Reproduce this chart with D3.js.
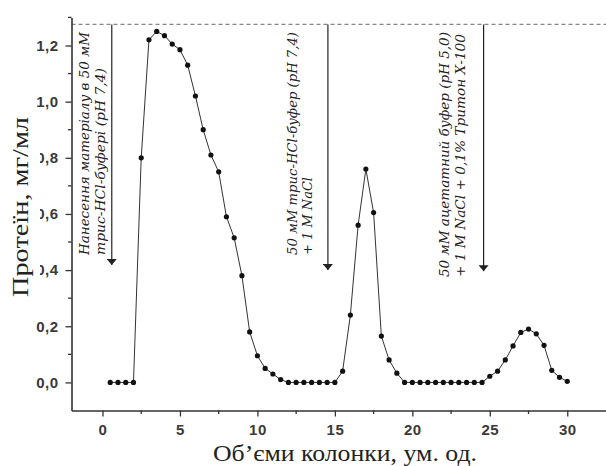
<!DOCTYPE html>
<html>
<head>
<meta charset="utf-8">
<script src="https://cdn.jsdelivr.net/npm/d3@7"></script>
<style>
  body { margin: 0; background: #fff; }
  svg { display: block; }
</style>
</head>
<body>
<div id="chart"></div>
<script>
// --- DATA ---
const volumes = [0.5, 1, 1.5, 2, 2.5, 3, 3.5, 4, 4.5, 5, 5.5, 6, 6.5, 7, 7.5, 8, 8.5, 9, 9.5, 10,
  10.5, 11, 11.5, 12, 12.5, 13, 13.5, 14, 14.5, 15, 15.5, 16, 16.5, 17, 17.5, 18, 18.5, 19, 19.5, 20,
  20.5, 21, 21.5, 22, 22.5, 23, 23.5, 24, 24.5, 25, 25.5, 26, 26.5, 27, 27.5, 28, 28.5, 29, 29.5, 30];
const protein = [0, 0, 0, 0, 0.80, 1.22, 1.25, 1.235, 1.205, 1.185, 1.13, 1.02, 0.90, 0.81, 0.75, 0.59, 0.515, 0.38, 0.18, 0.095,
  0.05, 0.03, 0.01, 0, 0, 0, 0, 0, 0, 0, 0.04, 0.24, 0.56, 0.76, 0.605, 0.165, 0.08, 0.033, 0, 0,
  0, 0, 0, 0, 0, 0, 0, 0, 0, 0.022, 0.04, 0.08, 0.13, 0.178, 0.19, 0.173, 0.132, 0.043, 0.018, 0.004];

const xTicks = [0, 5, 10, 15, 20, 25, 30];
const xMinor = [2.5, 7.5, 12.5, 17.5, 22.5, 27.5];
const yTicks = [0, 0.2, 0.4, 0.6, 0.8, 1.0, 1.2];
const yMinor = [0.1, 0.3, 0.5, 0.7, 0.9, 1.1, 1.3];

// buffer changes (arrows)
const arrowX = [0.6, 14.55, 24.6];
const arrowTip = [0.418, 0.40, 0.396];
const startLevel = 1.275;
const notes = [
  ["Нанесення матеріалу в 50 мМ", "трис-HCl-буфері (pH 7,4)"],
  ["50 мМ трис-HCl-буфер (pH 7,4)", "+ 1 M NaCl"],
  ["50 мМ ацетатний буфер  (pH 5,0)", "+ 1 M NaCl + 0,1% Тритон Х-100"]
];

// --- LAYOUT ---
const width = 606, height = 466;
const svg = d3.select("#chart").append("svg")
  .attr("width", width).attr("height", height);

const x = d3.scaleLinear().domain([-2, 32.5]).range([71.5, 606]);
const y = d3.scaleLinear().domain([-0.1, 1.3]).range([410.5, 17.4]);

const fmt = v => d3.format(".1f")(v).replace(".", ",");

// dashed level line
svg.append("line")
  .attr("x1", x(-2)).attr("x2", width)
  .attr("y1", y(startLevel)).attr("y2", y(startLevel))
  .attr("stroke", "#888").attr("stroke-width", 1.2)
  .attr("stroke-dasharray", "4,3");

// Axes
const xAxis = svg.append("g")
  .attr("transform", `translate(0,${y(-0.1)})`)
  .call(d3.axisBottom(x).tickValues(xTicks).tickFormat(d3.format("d"))
    .tickSize(6).tickSizeOuter(0).tickPadding(8));
xAxis.selectAll(".minor").data(xMinor).enter().append("line")
  .attr("class", "minor")
  .attr("x1", d => x(d)).attr("x2", d => x(d))
  .attr("y1", 0).attr("y2", 3.5)
  .attr("stroke", "#333").attr("stroke-width", 1.3);

const yAxis = svg.append("g")
  .attr("transform", `translate(${x(-2)},0)`)
  .call(d3.axisLeft(y).tickValues(yTicks).tickFormat(fmt)
    .tickSize(6).tickSizeOuter(0).tickPadding(7));
yAxis.selectAll(".minor").data(yMinor).enter().append("line")
  .attr("class", "minor")
  .attr("y1", d => y(d)).attr("y2", d => y(d))
  .attr("x1", 0).attr("x2", -3.5)
  .attr("stroke", "#333").attr("stroke-width", 1.3);

[xAxis, yAxis].forEach(g => {
  g.select(".domain").attr("stroke", "#333").attr("stroke-width", 1.6);
  g.selectAll(".tick line").attr("stroke", "#333").attr("stroke-width", 1.3);
  g.selectAll(".tick text")
    .attr("fill", "#3a3a3a")
    .style("font-family", "'Liberation Sans', Arial, sans-serif")
    .style("font-weight", "bold")
    .style("font-size", "15px")
    .style("letter-spacing", "0.5px");
});

// Axis titles (the y title hides the leading zeros, as in the original)
svg.append("rect")
  .attr("x", 0).attr("y", 112).attr("width", 40).attr("height", 190)
  .attr("fill", "#fff");
svg.append("text")
  .attr("transform", "translate(27.5,207) rotate(-90)")
  .attr("text-anchor", "middle")
  .attr("textLength", 180).attr("lengthAdjust", "spacingAndGlyphs")
  .style("font-family", "'Liberation Serif', 'Times New Roman', serif")
  .style("font-size", "24px").attr("fill", "#222")
  .text("Протеїн, мг/мл");

svg.append("text")
  .attr("x", 345).attr("y", 461)
  .attr("text-anchor", "middle")
  .attr("textLength", 264).attr("lengthAdjust", "spacingAndGlyphs")
  .style("font-family", "'Liberation Serif', 'Times New Roman', serif")
  .style("font-size", "24px").attr("fill", "#222")
  .text("Об’єми колонки, ум. од.");

// Data line and points
const line = d3.line()
  .x((d, i) => x(volumes[i]))
  .y(d => y(d));
svg.append("path")
  .datum(protein)
  .attr("d", line)
  .attr("fill", "none")
  .attr("stroke", "#333")
  .attr("stroke-width", 1);

svg.selectAll(".dot")
  .data(protein)
  .enter().append("circle")
  .attr("class", "dot")
  .attr("cx", (d, i) => x(volumes[i]))
  .attr("cy", d => y(d))
  .attr("r", 2.6)
  .attr("fill", "#111");

// Arrows
svg.append("defs").append("marker")
  .attr("id", "head")
  .attr("viewBox", "0 0 6 10")
  .attr("refX", 6).attr("refY", 5)
  .attr("markerWidth", 6).attr("markerHeight", 10)
  .attr("markerUnits", "userSpaceOnUse")
  .attr("orient", "auto")
  .append("path").attr("d", "M0,0 L6,5 L0,10 Z").attr("fill", "#222");

svg.selectAll(".arrow")
  .data(arrowX)
  .enter().append("line")
  .attr("class", "arrow")
  .attr("x1", d => x(d)).attr("x2", d => x(d))
  .attr("y1", y(startLevel))
  .attr("y2", (d, i) => y(arrowTip[i]))
  .attr("stroke", "#222").attr("stroke-width", 1.2)
  .attr("marker-end", "url(#head)");

// Annotations (rotated, reading upwards)
const noteBase = [[89, 105], [297, 312], [449, 465]];
const noteBottom = [255, 255, 277];
const noteLen = [[223, 187], [223, 78], [245, 243]];

notes.forEach((lines, k) => {
  lines.forEach((t, j) => {
    svg.append("text")
      .attr("transform", `translate(${noteBase[k][j]},${noteBottom[k]}) rotate(-90)`)
      .attr("textLength", noteLen[k][j]).attr("lengthAdjust", "spacingAndGlyphs")
      .style("font-family", "'DejaVu Serif', 'Liberation Serif', serif")
      .style("font-style", "italic")
      .style("font-size", "13.5px")
      .attr("fill", "#222")
      .text(t);
  });
});
</script>
</body>
</html>
